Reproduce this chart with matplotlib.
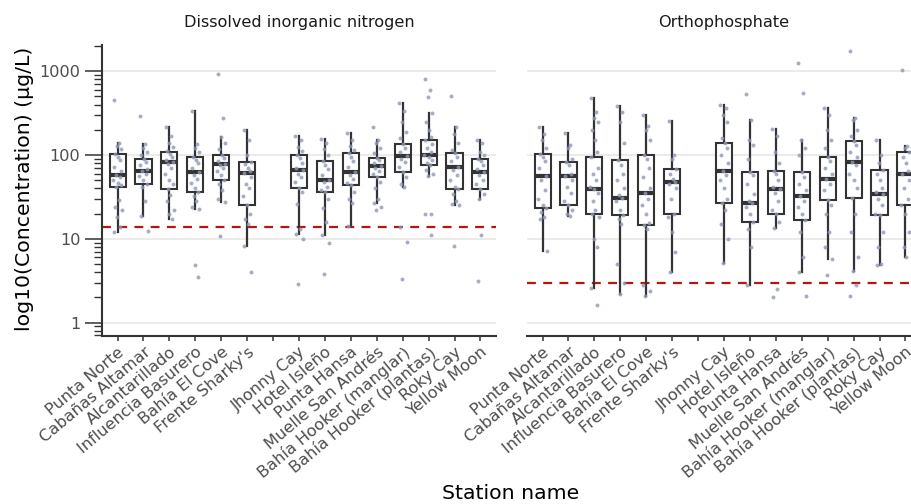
import numpy as np
import matplotlib
matplotlib.use("Agg")
import matplotlib.pyplot as plt
from matplotlib.ticker import LogLocator, NullFormatter

# ---------------- data ----------------
tick_labels = ["Punta Norte", "Cabañas Altamar", "Alcantarillado", "Influencia Basurero",
               "Bahía El Cove", "Frente Sharky's", "", "Jhonny Cay", "Hotel Isleño",
               "Punta Hansa", "Muelle San Andrés", "Bahía Hooker (manglar)",
               "Bahía Hooker (plantas)", "Roky Cay", "Yellow Moon"]
stations = [s for s in tick_labels if s]

panel_titles = ["Dissolved inorganic nitrogen", "Orthophosphate"]
thresholds = [14, 3]

# Dissolved inorganic nitrogen box stats (µg/L)
din_q1 = [41, 45, 39, 36, 51, 25.4, 40, 36, 44, 54, 62, 75, 39, 39]
din_med = [57, 64, 83, 62, 79, 61, 66, 51, 62, 74, 97, 100, 72, 63]
din_q3 = [103, 89, 109, 96, 100, 83, 100, 85, 105, 93, 136, 150, 106, 90]
din_wlo = [12.1, 18.5, 17, 22.4, 27.6, 8.2, 11.5, 11.2, 14.1, 26.5, 41, 56, 25, 30]
din_whi = [139, 136, 215, 340, 164, 200, 171, 156, 183, 152, 416, 316, 215, 152]
din_points = [
    [448, 139, 128, 118, 103, 95, 88, 72, 64, 57, 55, 50, 46, 44, 41, 29, 24, 22, 18, 14, 12.1],
    [296, 136, 120, 108, 100, 89, 82, 75, 68, 64, 60, 56, 50, 45, 42, 28, 18.5, 12.4],
    [215, 170, 140, 125, 112, 104, 96, 88, 83, 78, 70, 60, 50, 45, 39, 33, 28, 22, 20, 17],
    [340, 135, 120, 108, 96, 88, 80, 70, 62, 58, 52, 46, 40, 36, 32, 28, 24, 22.4, 4.9, 3.5],
    [930, 280, 164, 140, 118, 100, 92, 85, 79, 75, 70, 65, 58, 51, 45, 38, 30, 27.6, 10.9],
    [200, 150, 100, 83, 78, 70, 64, 61, 55, 45, 40, 32, 25.4, 20, 17, 15, 8.2, 4.05],
    [171, 150, 125, 112, 100, 92, 80, 70, 66, 60, 55, 48, 40, 36, 26, 13, 11.5, 10, 2.9],
    [156, 140, 118, 100, 85, 76, 68, 58, 51, 47, 42, 38, 36, 30, 23, 16, 11.2, 8.9, 3.8],
    [183, 150, 128, 115, 105, 95, 86, 72, 62, 58, 52, 46, 44, 36, 30, 27, 14.1],
    [215, 152, 140, 120, 105, 93, 88, 80, 74, 70, 65, 60, 54, 48, 40, 30, 26.5, 24, 22],
    [416, 340, 250, 190, 160, 136, 120, 108, 97, 90, 82, 72, 62, 55, 45, 41, 14, 9.1, 3.3],
    [814, 600, 488, 316, 250, 200, 165, 150, 135, 120, 108, 100, 95, 88, 80, 75, 66, 60, 56, 20, 20, 11],
    [508, 215, 180, 140, 115, 106, 96, 85, 72, 66, 58, 50, 42, 39, 34, 28, 26, 25, 8.1],
    [152, 140, 110, 100, 90, 84, 75, 68, 63, 58, 50, 45, 39, 34, 30, 11.2, 3.1],
]

# Orthophosphate box stats (µg/L)
po4_q1 = [23, 25, 20, 19, 14.7, 20, 27, 15.8, 20, 16.7, 29, 31, 19.3, 25]
po4_med = [56, 56, 39, 30.5, 35, 48, 65, 26.6, 39, 32, 52, 82, 34, 59]
po4_q3 = [104, 83, 95, 88, 100, 69, 139, 63, 65, 63, 96, 147, 67, 110]
po4_wlo = [7.1, 18.6, 2.6, 2.2, 2.1, 4.0, 5.1, 2.8, 13.4, 4.0, 5.8, 4.1, 4.9, 6.1]
po4_whi = [219, 185, 477, 380, 302, 257, 394, 264, 204, 152, 369, 276, 152, 127]
po4_points = [
    [219, 180, 150, 120, 104, 95, 85, 70, 56, 50, 38, 30, 25, 23, 21, 18, 17, 7.1],
    [185, 130, 120, 90, 83, 75, 60, 56, 50, 42, 35, 28, 25, 22, 20, 18.6],
    [477, 330, 280, 250, 200, 150, 110, 95, 70, 60, 50, 42, 39, 35, 28, 22, 20, 18, 10, 8, 2.6, 1.6],
    [380, 330, 250, 140, 88, 75, 60, 50, 40, 33, 30.5, 28, 22, 19, 17, 15, 5, 3, 2.2],
    [302, 220, 200, 150, 100, 90, 70, 55, 40, 35, 30, 25, 20, 15.5, 14.7, 13, 2.8, 2.4, 2.1],
    [257, 100, 90, 69, 60, 52, 48, 45, 40, 30, 20, 18, 12, 7, 4.0],
    [394, 360, 300, 250, 160, 139, 120, 100, 80, 65, 58, 50, 40, 30, 27, 22, 15, 10, 5.1],
    [532, 264, 150, 130, 90, 63, 58, 45, 34, 28, 26.6, 24, 20, 15.8, 13, 8, 2.8],
    [204, 170, 110, 80, 65, 60, 50, 42, 39, 35, 28, 22, 20, 16, 13.4, 2.5, 2.0],
    [1260, 552, 152, 120, 100, 63, 55, 45, 38, 32, 28, 24, 20, 16.7, 12, 6, 4, 2.1],
    [369, 300, 200, 150, 120, 96, 85, 70, 60, 52, 45, 38, 29, 25, 20, 12, 8, 5.8, 3.7],
    [1740, 276, 260, 200, 170, 147, 130, 110, 95, 82, 75, 60, 50, 40, 31, 20, 12, 6, 4.1, 2.8, 2.1],
    [152, 100, 80, 67, 60, 50, 40, 36, 34, 30, 25, 20, 19.3, 12, 8, 5, 4.9],
    [1037, 127, 120, 110, 95, 80, 65, 59, 50, 40, 30, 25, 20, 12, 8, 6.1],
]

# ---------------- style ----------------
W, H = 912, 504
DARK = "#333333"
GRAY_TXT = "#4D4D4D"
PT_COLOR = "#8E99B5"
RED = "#B5170D"
JITTER = [-0.14, 0.06, -0.02, 0.13, -0.09, 0.02, 0.10, -0.12, 0.15, -0.05, 0.08,
          -0.16, 0.00, 0.12, -0.07, 0.04, -0.11, 0.16, -0.03, 0.09, -0.13, 0.11]

fig = plt.figure(figsize=(W / 100, H / 100), dpi=100)


def axrect(x0, y0, x1, y1):
    return [x0 / W, 1 - y1 / H, (x1 - x0) / W, (y1 - y0) / H]


axL = fig.add_axes(axrect(102, 45, 496, 336))
axR = fig.add_axes(axrect(527, 45, 921, 336))

positions = [i + 1 for i, s in enumerate(tick_labels) if s]

panels = [
    (axL, din_q1, din_med, din_q3, din_wlo, din_whi, din_points, thresholds[0]),
    (axR, po4_q1, po4_med, po4_q3, po4_wlo, po4_whi, po4_points, thresholds[1]),
]

for k, (ax, q1, med, q3, wlo, whi, pts, thr) in enumerate(panels):
    ax.set_yscale("log")
    ax.set_ylim(0.69, 2060)
    ax.set_xlim(0.4, 15.6)
    for v in [1, 10, 100, 1000]:
        ax.axhline(v, color="#EBEBEB", lw=1.4, zorder=0)
    ax.axhline(thr, color=RED, lw=1.6, ls=(0, (4, 3.3)), zorder=1)

    stats = [dict(med=m, q1=a, q3=b, whislo=lo, whishi=hi, label=s)
             for m, a, b, lo, hi, s in zip(med, q1, q3, wlo, whi, stations)]
    ax.bxp(stats, positions=positions, widths=0.62, showfliers=False, showcaps=False,
           patch_artist=True, manage_ticks=False, zorder=2,
           boxprops=dict(facecolor="white", edgecolor=DARK, linewidth=1.5),
           medianprops=dict(color=DARK, linewidth=3.0, solid_capstyle="butt"),
           whiskerprops=dict(color=DARK, linewidth=1.6))

    for p, vals in zip(positions, pts):
        xs = [p + JITTER[j % len(JITTER)] for j in range(len(vals))]
        ax.scatter(xs, vals, s=8, color=PT_COLOR, alpha=0.8, linewidths=0, zorder=3)

    ax.set_xticks(range(1, 16))
    ax.set_xticklabels(tick_labels, rotation=40, ha="right", va="top",
                       rotation_mode="anchor", fontsize=11.6, color=GRAY_TXT)
    ax.tick_params(axis="x", length=3.6, width=1.1, color=DARK, pad=2.5)

    for side in ["top", "right"]:
        ax.spines[side].set_visible(False)
    ax.spines["bottom"].set_color(DARK)
    ax.spines["bottom"].set_linewidth(1.5)

    ax.set_yticks([1, 10, 100, 1000])
    ax.set_yticklabels(["1", "10", "100", "1000"])
    ax.yaxis.set_minor_locator(LogLocator(base=10, subs=np.arange(2, 10)))
    ax.yaxis.set_minor_formatter(NullFormatter())

    if k == 0:
        ax.spines["left"].set_color(DARK)
        ax.spines["left"].set_linewidth(1.5)
        ax.tick_params(axis="y", which="major", length=12, width=1.1, color=DARK,
                       labelsize=11.6, labelcolor=GRAY_TXT, pad=3.5)
        ax.tick_params(axis="y", which="minor", length=6, width=1.0, color=DARK)
    else:
        ax.spines["left"].set_visible(False)
        ax.tick_params(axis="y", which="both", left=False, labelleft=False)

fig.text(299 / W, 1 - 23 / H, panel_titles[0], ha="center", va="center",
         fontsize=11.6, color="#1A1A1A")
fig.text(724 / W, 1 - 23 / H, panel_titles[1], ha="center", va="center",
         fontsize=11.6, color="#1A1A1A")
fig.text(25 / W, 1 - 189 / H, "log10(Concentration) (µg/L)", rotation=90,
         ha="center", va="center", fontsize=14.7, color="black")
fig.text(511 / W, 1 - 499 / H, "Station name", ha="center", va="baseline",
         fontsize=14.7, color="black")

fig.savefig("out.png", dpi=100)
